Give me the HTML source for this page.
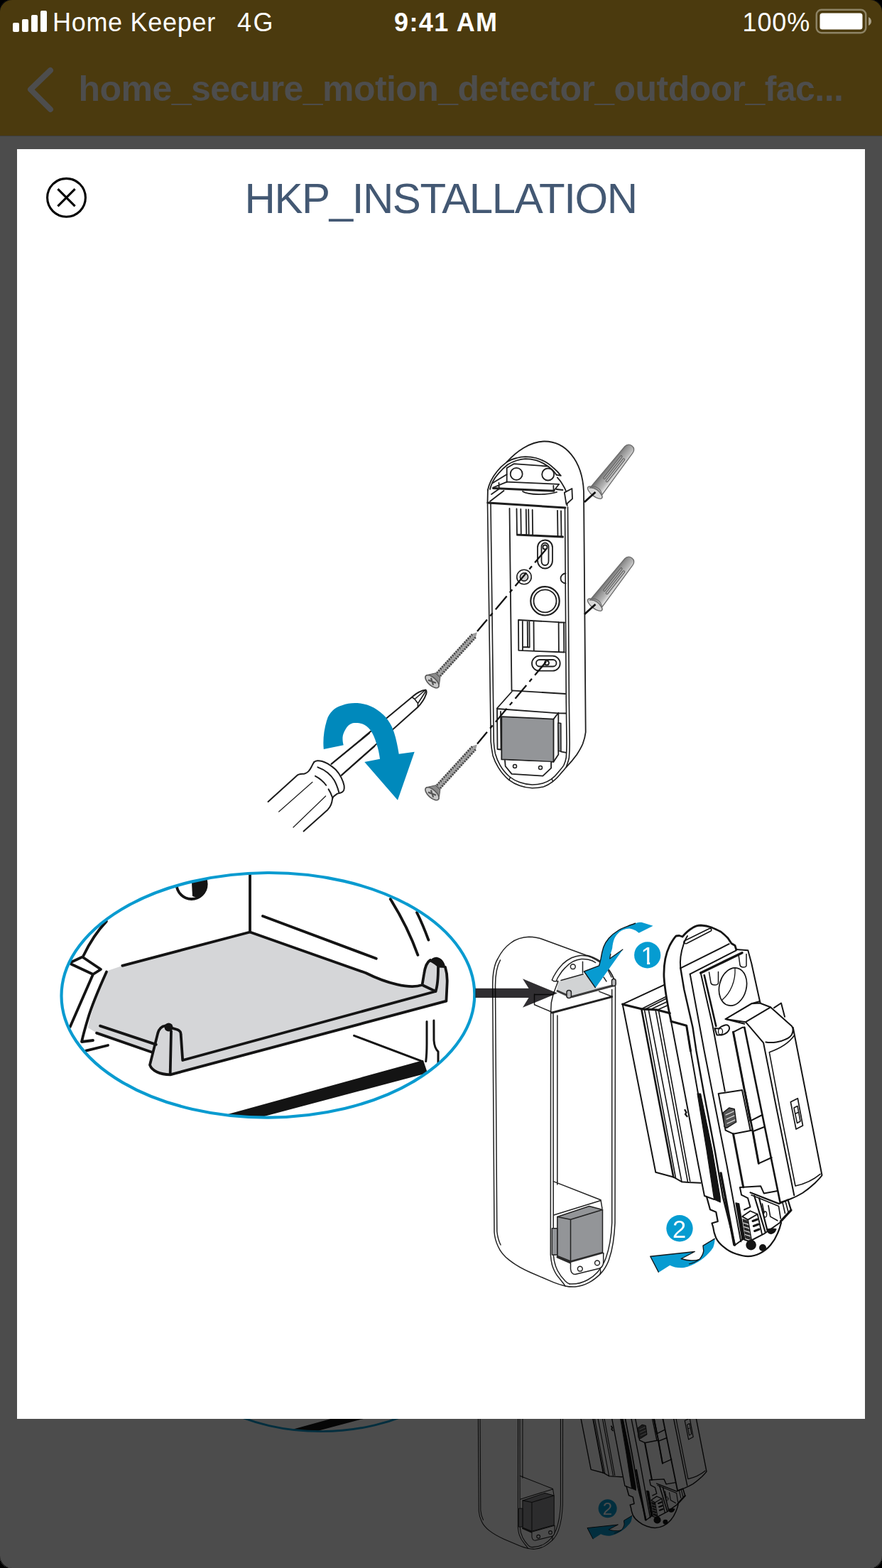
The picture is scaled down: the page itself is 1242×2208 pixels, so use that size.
<!DOCTYPE html>
<html lang="en">
<head>
<meta charset="utf-8">
<title>HKP_INSTALLATION</title>
<style>
*{box-sizing:border-box;margin:0;padding:0}
html,body{width:1242px;height:2208px;overflow:hidden;background:#000}
body{position:relative;font-family:"Liberation Sans",sans-serif}
#screen{position:absolute;left:0;top:0;width:1242px;height:2208px;border-radius:15px;overflow:hidden;background:#4d4d4d}
#header{position:absolute;left:0;top:0;width:1242px;height:192px;background:#4b3a0e;border-bottom:1px solid #3e3e3e}
.sb{position:absolute;color:#fff;font-size:36px;line-height:40px;top:12px;white-space:nowrap}
#carrier{left:74px;letter-spacing:0.7px}
#net{left:334px;letter-spacing:2.6px}
#time{left:555px;font-weight:bold;font-size:36px;letter-spacing:1.4px}
#pct{left:1045.5px;letter-spacing:0.9px}
#navtitle{position:absolute;left:110.6px;top:95px;font-size:50px;line-height:60px;font-weight:bold;color:#4d4d4d;white-space:nowrap;letter-spacing:-0.56px}
#page{position:absolute;left:0;top:192px;width:1242px;height:2016px;background:#fff;overflow:hidden}
#dim{position:absolute;left:0;top:192px;width:1242px;height:2016px;background:rgba(0,0,0,0.7)}
#card{position:absolute;left:24px;top:210px;width:1194px;height:1788px;background:#fff;overflow:hidden}
#title{position:absolute;left:344.5px;top:244px;font-size:60px;line-height:72px;color:#435873;white-space:nowrap;letter-spacing:-1.4px}
svg{position:absolute;left:0;top:0;overflow:hidden}
#modalart{filter:blur(0.45px)}
</style>
</head>
<body>
<div id="screen">
  <div id="page">
    <svg width="1242" height="2016" viewBox="0 192 1242 2016">
      <g transform="translate(190.5 922) scale(0.695)"><use href="#illus"/></g>
    </svg>
  </div>
  <div id="dim"></div>
  <div id="header"></div>
  <div id="navtitle">home_secure_motion_detector_outdoor_fac...</div>
  <div class="sb" id="carrier">Home Keeper</div>
  <div class="sb" id="net">4G</div>
  <div class="sb" id="time">9:41 AM</div>
  <div class="sb" id="pct">100%</div>
  <div id="card">
    <svg id="modalart" width="1194" height="1788" viewBox="24 210 1194 1788">
      <defs>

  <linearGradient id="plugG" x1="0" y1="0" x2="0" y2="1" gradientUnits="objectBoundingBox">
    <stop offset="0" stop-color="#6e6e6e"/>
    <stop offset="0.3" stop-color="#959595"/>
    <stop offset="0.7" stop-color="#b9b9b9"/>
    <stop offset="1" stop-color="#efefef"/>
  </linearGradient>
  <g id="plug">
        <ellipse cx="0" cy="0" rx="5" ry="12.5" fill="#d9d9d9" stroke="#6b6b6b" stroke-width="1.4"/>
    <path d="M1 -9.6 L77 -7.2 C82 -6.8 84 -3 84 0 C84 3.5 82 6.8 77 7.2 L3 9.8 C6 4 6 -4 1 -9.6 Z" fill="url(#plugG)" stroke="#6b6b6b" stroke-width="1.3"/>
    <path d="M4 9 C9 4 9 -4 4 -9" fill="none" stroke="#6b6b6b" stroke-width="1.2"/>
    <rect x="23" y="-3.6" width="41" height="2.6" rx="1.3" fill="#a9a9a9" stroke="#5a5a5a" stroke-width="1"/>
    <rect x="22" y="1.8" width="41" height="2.6" rx="1.3" fill="#c4c4c4" stroke="#5a5a5a" stroke-width="1"/>
  </g>
  <g id="screw">
    <path d="M9 -4.4 L86 -4.2 L94 0 L86 4.2 L9 4.4 Z" fill="#9c9c9c"/>
    <path d="M10 0 L88 0" stroke="#3a3a3a" stroke-width="9.4" stroke-dasharray="1.5 2.1" fill="none"/>
    <path d="M12 0 L88 0" stroke="#bdbdbd" stroke-width="3.4" stroke-dasharray="1.5 2.1" stroke-dashoffset="-1.8" fill="none"/>
    <path d="M4 -10 L12 -4.4 L12 4.4 L4 10 Z" fill="#8a8a8a" stroke="#555" stroke-width="1"/>
    <ellipse cx="0" cy="0" rx="5.6" ry="12" fill="#c9c9c9" stroke="#5a5a5a" stroke-width="1.6"/>
    <path d="M-2.2 -5.5 L2.2 5.5 M2.6 -4.6 L-2.6 4.6" stroke="#555" stroke-width="2.2" fill="none"/>
  </g>

      </defs>
      <g id="illus">
<g id="dev1" fill="none" stroke="#1e1e1e" stroke-width="1.8" stroke-linecap="round" stroke-linejoin="round">
  <!-- outer shell -->
  <path d="M686.9 690 C687.8 685.5 689.3 681.5 691.2 677.4 C693.5 672.5 696.5 668 700 663.7 C704 658.5 708.5 654.5 713.7 650.6 C727 636 746 622 766 621.5 C796 621 820 648 822 692 L824.7 1031 C824 1037 822.5 1042.5 820.6 1047.5 C818.5 1052.5 815.5 1057.5 812.3 1062.5 C808 1068.5 803 1074.5 797.3 1080.3 C794.8 1083.6 792 1086.8 789.1 1089.9 C785.8 1094 782 1097.7 778.1 1100.9 C774.3 1103.8 770 1106.2 765.8 1107.7 C760.5 1109.2 755 1109.8 749.4 1109.8 C743 1109.5 737 1108.3 731.6 1106.3 C726 1104.3 721 1101.5 716.5 1098.1 C710.5 1093 705.5 1087 701.5 1080.3 C698.3 1075 695.8 1069.5 694 1063.9 C692.8 1057.5 691.8 1051 691.2 1044.7 L690.5 990 L686.5 708 Z" fill="#fff" stroke="none"/>
  <path d="M713.7 650.6 C727 636 746 622 766 621.5 C796 621 820 648 822 692 L824.7 1031 C824 1037 822.5 1042.5 820.6 1047.5 C818.5 1052.5 815.5 1057.5 812.3 1062.5 C808 1068.5 803 1074.5 797.3 1080.3"/>
  <path d="M686.9 690 L686.5 708"/>
  <!-- rim outer arc -->
  <path d="M686.9 690 C687.8 685.5 689.3 681.5 691.2 677.4 C693.5 672.5 696.5 668 700 663.7 C704 658.5 708.5 654.5 713.7 650.6 C718 647.8 722.5 646 727.4 645 C731.5 643.8 735.5 643.2 739.9 643.1 C745 643.2 750 643.8 754.9 645 C759.5 646.3 763.5 648 767.4 650 C772 652.5 776 655.8 779.8 659.3 C783.5 662.5 786.8 666 789.8 669.9 L783.6 668.7"/>
  <path d="M690 689 C691 685 692.2 682 693.7 678.7 C696 674 699 670 702.5 666.2 C706 662 710.5 657.8 714.9 654.3 C719 651.8 723 649.8 727.4 648.5 C731.5 647.2 735.5 646.4 739.9 646.2 C745 646.3 750 647 754.9 648.1 C759 649.3 762.5 651 766.1 653.1 C770 655.3 774 658.2 777.3 661.2 C779.8 663.5 781.8 666 783.6 668.7"/>
  <path d="M784.8 672.4 C787.8 675.5 790.2 678.8 792.3 682.4 C794.5 685.7 796.2 689 797.3 692.4 C798.2 696.5 798.6 700.5 798.6 704.9 L798.6 712"/>
  <!-- rim sides -->
  <path d="M686.5 708 L690.5 990 L691.2 1044.7 C691.8 1051 692.8 1057.5 694 1063.9 C695.8 1069.5 698.3 1075 701.5 1080.3 C705.5 1087 710.5 1093 716.5 1098.1 C721 1101.5 726 1104.3 731.6 1106.3 C737 1108.3 743 1109.5 749.4 1109.8 C755 1109.8 760.5 1109.2 765.8 1107.7 C770 1106.2 774.3 1103.8 778.1 1100.9 C782 1097.7 785.8 1094 789.1 1089.9 C792 1086.8 794.8 1083.6 797.3 1080.3 C800 1072 801.2 1069.5 801.4 1066.6 C802 1059 802.2 1052 802.1 1044.7 L801.4 990 L799.5 714" stroke-width="1.6"/>
  <path d="M691 709 L694.6 990 L695.3 1044.7 C695.6 1050 696.3 1056 697.4 1061.2 C699 1067 701.3 1072.5 704.2 1077.6 C708 1084 712.5 1089.5 717.9 1094 C722 1097.3 726.5 1099.8 731.6 1101.6 C737 1103.6 743 1104.8 749.4 1105 C754.5 1105 759.5 1104.3 764.4 1102.9 C769 1101.5 773 1099.5 776.8 1096.8 C780.3 1094 783.5 1090.8 786.3 1087.2 C789 1084 791.6 1081 793.9 1077.6 C795.5 1074 796.7 1070.5 797.3 1066.6 C797.8 1059 798.1 1052 798 1044.7 L797.3 990 L795.5 715" stroke-width="1.6"/>
  <path d="M717 1098.5 L718.5 1094.5 M778.5 1100.5 L777 1096.5" stroke-width="1.4"/>
  <!-- box top edge -->
  <path d="M687 708 L796 715" stroke-width="3"/>
  <!-- recess: back plate -->
  <path d="M713.7 678.7 L713.7 659 L723.5 653.2 L770 656.5"/>
  <path d="M713.7 678.7 L787 681.8"/>
  <circle cx="727.2" cy="667.4" r="8.5"/>
  <circle cx="771.7" cy="668" r="8.5"/>
  <!-- shelf -->
  <path d="M694.5 687.4 L780 691.3" stroke-width="3"/>
  <path d="M713.7 678.7 L694.5 686.5 M702.5 680 L702.8 688 M779.3 684 L779.6 691.3 M780 691 L787 682 M783.5 689 L792.5 690"/>
  <path d="M736 692 C744 697.5 772 697 784 693"/>
  <!-- left wall diagonals -->
  <path d="M690 706 L709.5 691 M692 696 L702 689 M694 680 L713.7 668"/>
  <!-- right tab -->
  <path d="M794.8 693.6 L805.4 688 L806 702.4 L797.5 710 Z" fill="#fff"/>
  <!-- inner panel left line -->
  <path d="M717.5 716 L720.5 972"/>
  <!-- upper clip block -->
  <path d="M727.5 716.5 L728 752.5 L793 755.5 M733.3 717 L733.8 752.5 M740.8 717.5 L741.3 752.5 M744.2 717.5 L744.7 752.5 M749.7 718 L750.2 753.5 M785 719 L785.5 755 M790 719.5 L790.5 755" />
  <path d="M728 753.5 L793 756.5"/>
  <!-- keyhole -->
  <path d="M767.5 760.5 C773.5 760.5 778 765 778 771 L778 789 C778 796 773.5 800.5 767.5 800.5 C761.5 800.5 757 796 757 789 L757 771 C757 765 761.5 760.5 767.5 760.5 Z"/>
  <path d="M767.5 764.5 C770.5 764.5 772.5 767 772.5 770 L772.5 790 C772.5 793.5 770.5 796 767.5 796 C764.5 796 762.5 793.5 762.5 790 L762.5 770 C762.5 767 764.5 764.5 767.5 764.5 Z"/>
  <circle cx="767.5" cy="770.5" r="3"/>
  <!-- small screw hole -->
  <circle cx="738" cy="812.5" r="10.2" stroke-width="1.6"/>
  <circle cx="738" cy="812.5" r="5.6" stroke-width="1.6" fill="#d0d0d0"/>
  <path d="M796.5 807.5 A7 7 0 0 0 796.5 821.5"/>
  <!-- big round -->
  <circle cx="767.5" cy="846.3" r="20.2" stroke-width="2.2"/>
  <circle cx="767.5" cy="846.3" r="16"/>
  <!-- lower clip block -->
  <path d="M730 873 L795 876.6 M730 873 L730.3 915.8 L795 918.5 M735.8 873.5 L736 915.5 M742.7 874 L743 911 M745.4 874 L745.7 911 M751.5 874.5 L751.8 916.5 M786.6 876 L786.9 918 M794 876.5 L794.3 918.5 M736 911 L745.7 911.5"/>
  <!-- horizontal slot -->
  <rect x="749" y="923.7" width="39.7" height="21" rx="10.5"/>
  <rect x="755" y="929" width="28.5" height="9.5" rx="4.75"/>
  <circle cx="770" cy="933.5" r="3"/>
  <!-- battery tray -->
  <path d="M720.7 972.3 L796 977 M720.7 974 L699.8 997.5 M699.8 998 L786 1004.3 L797 1004.5 M700 998 L700.5 1055 L705.5 1055.5 M705 1002 L705.5 1055"/>
  <!-- battery -->
  <path d="M706.3 1009.2 L779.5 1012.6 L779.5 1072.8 L706.3 1069.4 Z" fill="#939598"/>
  <path d="M779.5 1012.6 L786.3 1003.7 L786.3 1062.5 L779.5 1072.8"/>
  <path d="M785.8 1018 L789.8 1018.5 L790 1057.7 L786.5 1057.5 Z" fill="#939598" stroke-width="1.5"/>
  <path d="M789.8 1058.4 L797.3 1059.8"/>
  <!-- bracket -->
  <path d="M711 1070.8 L711.7 1079 L720.6 1089.9 L764.4 1092.7 L776.1 1081.7 L776.1 1073" fill="#fff"/>
  <circle cx="725" cy="1079" r="2.5" stroke-width="1.5"/>
  <circle cx="761" cy="1081" r="2.5" stroke-width="1.5"/>
  <!-- dashed lines -->
  <path d="M768.9 773.6 L672 889" stroke-dasharray="24.5 6.5 5.5 6.5" stroke-width="2.3" stroke-linecap="butt" stroke="#111"/>
  <path d="M768.9 932 L672 1047.4" stroke-dasharray="24.5 6.5 5.5 6.5" stroke-width="2.3" stroke-linecap="butt" stroke="#111"/>
</g>

<g id="topExtra">
  <use href="#plug" transform="translate(837.8 693.7) rotate(-51.8)"/>
  <use href="#plug" transform="translate(837.8 851.7) rotate(-51.8)"/>
  <path d="M823 707 L838.5 693 M823 865 L838.5 851" stroke="#111" stroke-width="2.8" fill="none"/>
  <use href="#screw" transform="translate(608.5 959.7) rotate(-47.6)"/>
  <use href="#screw" transform="translate(608.5 1117.7) rotate(-47.6)"/>
  <!-- screwdriver -->
  <g fill="none" stroke="#1c1c1c" stroke-width="2" stroke-linecap="round" stroke-linejoin="round">
    <path d="M466.7 1075.8 L580 981.7 C586 976.5 592 972.5 599.5 971.6 C601 973 600.8 975 600 977.5 C597.5 985 593.5 990.5 588.3 995.8 L480.8 1091.7"/>
    <path d="M580 981.7 L584 984.5 L598.5 972 M584 984.5 L588.5 990.5 M588.5 990.5 L599.5 973.5 M588.5 990.5 L588.3 995.8" stroke-width="1.6"/>
    <!-- collar -->
    <path d="M442.3 1073.1 C443.5 1072 445 1071.4 446.8 1071.2 C449 1071 451.3 1071.3 453.6 1072 C456.3 1072.8 459 1074 461.5 1075.4 C465.5 1077.8 469.3 1080.5 472.7 1083.8 C476 1087.2 478.5 1091 480.6 1095.1 C482.4 1098.7 483.8 1102.5 484.6 1106.4 C485 1109 484.8 1111.2 484 1113.1 C483 1115 481.5 1116 479.5 1116.5 L475 1117.6 C473 1119 471 1120.5 469.3 1122.1 L468.2 1124.4"/>
    <path d="M447.4 1080.4 C452.5 1082.2 457.3 1084.9 461.5 1088.3 C465 1091.2 468 1094.6 470.5 1098.5 C473.5 1103.5 475.5 1109.3 477.2 1115.4"/>
    <path d="M444 1092.8 C447 1094.3 450 1096.2 452.4 1098.5 C455 1100.6 457.3 1103 459.2 1105.8 M462.6 1111.4 C465 1115 466.8 1119 468.2 1123.3"/>
    <!-- handle -->
    <path d="M377.5 1128.9 L418.6 1091.7 C420 1090.8 421.5 1090.3 423.1 1090 C425 1089.7 427 1089.8 428.8 1089.5 C431 1088.8 432.8 1087.7 434.4 1086.1 C436.2 1084.2 437.7 1081.8 438.9 1079.3 C440 1077 441 1074.8 442.3 1073.1"/>
    <path d="M427.6 1170.6 L461.5 1140.2 C463.5 1138 465 1135.8 466 1133.4 C467.2 1130.5 467.8 1127.5 468.2 1124.4"/>
    <path d="M392.7 1143 L440 1101.3 M413 1165 L458.6 1121" stroke-width="1.2"/>
  </g>
  <!-- arrow -->
  <path d="M455.8 1055 C454.5 1043 456 1025 461.7 1010 C467 1000 473 996 481.7 993.3 C488 990.5 496 989.6 503.3 990 C512 990.5 520 993 526.7 996.7 C533 1000.5 539 1005 543.3 1010 C549 1017 553 1025 555 1031.7 C558 1041 560 1051 561.7 1061.7 L583.7 1058.7 L560 1126.7 L513.3 1073 L535 1068.7 C534 1061 532.5 1053.5 530 1046.7 C528 1040 525.5 1033.5 521.7 1028.3 C518.5 1024 514.5 1020.8 510 1019.2 C506 1018 501 1017.6 496.7 1018.3 C492.5 1019.5 489 1022.5 486.7 1026.7 C484 1031 482.7 1035 482.5 1038.3 C482.3 1042 482.8 1046 483.7 1049.2 Z" fill="#0089bc"/>
  <g fill="none" stroke="#1c1c1c" stroke-width="2" stroke-linecap="round">
    <path d="M466.7 1075.8 L520 1032.5 M480.8 1091.7 L527.5 1050.8"/>
  </g>
</g>

<g id="callout">
  <clipPath id="ellClip"><ellipse cx="377.4" cy="1401.3" rx="290.9" ry="172.3"/></clipPath>
  <g clip-path="url(#ellClip)">
    <rect x="80" y="1220" width="600" height="360" fill="#fff"/>
    <!-- grey floor -->
    <path d="M150 1367.5 L172 1360 L352 1313.5 L515 1370 C545 1385 577 1393 594.5 1387 L597 1372 C598 1362 601 1355 606 1352 L612 1350 L627 1362 L629.6 1385 L628.4 1409.7 L239.7 1513.3 C225 1513 214 1508 211 1499.6 L214 1482 L136 1454.6 L123.7 1447 C128 1425 138 1398 150 1367.5 Z" fill="#d5d6d8"/>
    <g fill="none" stroke="#141414" stroke-width="3.8" stroke-linecap="round" stroke-linejoin="round">
      <path d="M352 1232 L352 1312.5 L172.3 1359.8"/>
      <path d="M352 1312.5 L515 1370 C545 1385 577 1393 594.5 1387 L597 1372 C598.5 1361 601.5 1354.5 606 1352"/>
      <path d="M370 1290 L529.8 1349.8"/>
      <path d="M549.7 1266 C566 1292 578 1316 588.4 1344.8 M587 1285 C593 1297 598 1309 603.4 1323.6"/>
      <!-- right post -->
      <path d="M627 1362 C629.5 1370 630 1378 629.6 1385 L628.4 1409.7 L239.7 1513.3 C225 1513 214 1508 211 1499.6 L222.3 1454.6 C224 1449 228 1445 232.3 1444.6 L250 1450 C253.5 1451.5 254.7 1453 254.7 1457 L257.2 1493 L613.4 1396 C616 1389 617 1378 617 1362" fill="none"/>
      <path d="M594.5 1387 L613.4 1396 M241 1452 L239.7 1512"/>
      <!-- front ledge -->
      <path d="M141 1444.6 L219.8 1470.9 M136 1454.6 L214.8 1482"/>
      <!-- left wall -->
      <path d="M149.9 1297.4 C136 1312 126 1328 117.4 1346 M100 1355 L116 1347.5 L142 1365 L131 1372 L100 1357.5 M131 1372 L98.7 1445.9 M150 1368.5 C138 1395 128 1420 123.7 1434.7 C120 1447 117 1458 115 1467 L131 1465 M121 1479.6 L152 1472"/>
      <!-- lower right -->
      <path d="M601 1438.4 L601 1470 C601 1480 600.5 1488 599.7 1494.6 M610.9 1437 L611 1465 C611.5 1473 614 1478 617 1480.8 L617 1497" stroke-width="3"/>
      <path d="M498.6 1458.4 L594.7 1494.6" stroke-width="3"/>
    </g>
    <path d="M604.6 1354 C608 1349 612 1347 616 1348 C622 1349.5 626 1354 627.5 1363 L617 1362.5 C612 1357.5 608 1355.5 604.6 1354 Z" fill="#141414"/>
    <circle cx="237.5" cy="1446.5" r="6" fill="#141414"/>
    <!-- small circle top -->
    <circle cx="269.7" cy="1245" r="21" fill="#fff" stroke="#141414" stroke-width="3.8"/>
    <path d="M270 1243 L291 1238 C291 1250 286 1260 277 1264 L271 1262 Z" fill="#141414"/>
    <!-- thick black band -->
    <path d="M310 1572 L596 1493 L602 1511 L372 1572 L360 1580 Z" fill="#141414"/>
  </g>
  <ellipse cx="377.4" cy="1401.3" rx="290.9" ry="172.3" fill="none" stroke="#0a9bd0" stroke-width="4.2" transform="rotate(-0.27 377.4 1401.3)"/>
</g>

<g id="dev2" fill="none" stroke="#222" stroke-width="1.5" stroke-linecap="round" stroke-linejoin="round">
  <!-- outer shell -->
  <path d="M693.7 1390 C693.5 1370 696 1358 701 1350 C706 1340 712 1333 719 1328 C727 1322 736 1319.5 745 1319.3 C752 1319.3 759 1320.8 765 1323 L825 1345 C840 1348 852 1357 858.6 1367.4 C863 1374 866 1381 866.5 1390 L866 1722 C865.5 1733 864.5 1742 863.4 1749.7 C862 1759 860 1767 857.2 1774.7 C854 1783 850 1789.5 844.7 1794.6 C840 1799 835 1803 829.7 1805.9 C823 1809.5 816 1811.5 809.8 1812 C805 1812.2 800 1811.8 796 1810.9 C790 1809.5 785 1808 779.8 1805.9 L747.4 1792 C736 1787 726 1781.5 717.4 1774.7 C710 1769 704.5 1762.5 701.2 1754.7 C698 1748 696.5 1741 696 1735 Z" fill="#fff"/>
  <path d="M697.5 1388 C697.5 1372 700 1360 704.5 1352 M697.5 1388 L699.8 1734 C700.5 1741 702 1747 705 1753"/>
  <!-- rim arcs -->
  <path d="M777.4 1380 C779 1376 780 1374 781.2 1372.4 C784 1367 788 1362 792.4 1357.4 C796 1354 800 1351 804.9 1348.7 C809 1347 813 1346 817.4 1345.5 C821 1345.2 824 1345.5 827.4 1346.2 C831 1347 835 1349 838.6 1351.2 C847 1356 854 1362 858.6 1367.4 C861 1371 863 1375 864.8 1378.6 L867 1385"/>
  <path d="M783.7 1381 C784.5 1378 786 1375.5 787.4 1373.6 C790 1369 793 1365.5 796.2 1362.4 C799.5 1359 803 1356 807.4 1353.7 C811 1352 815 1351 818.6 1350.5 C822 1350.3 825 1350.5 828.6 1351.2 C832 1352 836 1353.5 838.6 1355.5"/>
  <path d="M777.4 1380 L780 1381.8 L786 1381.8 L783.5 1388 C780 1396 777.5 1405 776.3 1412 L775.6 1425"/>
  <!-- grey shelf -->
  <path d="M786.2 1382.4 L821.1 1371.8 L827.4 1374.9 L838.6 1391.1 L864.8 1386.1 L864.8 1388 L804.9 1405 L798.7 1404.8 L783.7 1396.1 Z" fill="#d1d3d4" stroke="none"/>
  <path d="M790 1380.5 L821.1 1371.8 M820.5 1354.3 L820.5 1370"/>
  <path d="M785 1395.5 L797.5 1401 M805 1403.8 L864.8 1387.5" stroke-width="3" stroke="#3a3a3a"/>
  <rect x="798" y="1394.5" width="6.4" height="11" rx="3" fill="#b8b9bb"/>
  <rect x="861.5" y="1378.5" width="5.6" height="10" rx="2.8" fill="#b8b9bb"/>
  <path d="M850 1376 L854 1382 M856 1366 L861 1376" stroke-width="1.4"/>
  <circle cx="806.8" cy="1361.2" r="3.4"/>
  <!-- box top -->
  <path d="M777.4 1426 L861.7 1403.6" stroke-width="3"/>
  <path d="M843.6 1396.1 L861.1 1403" stroke-width="1.4"/>
  <path d="M752.5 1400 L752.5 1414.8 L776.2 1424.8 M752.5 1400.5 L778 1400.5"/>
  <!-- right edge -->
  <path d="M861.7 1393.6 L861.7 1722 C861 1740 858 1758 853 1772 C848 1785 839 1796 828 1802 C820 1806.5 810 1808.5 802 1808"/>
  <!-- left opening edge -->
  <path d="M775.6 1425 L775.3 1767 C775.8 1774 776.8 1780 778.6 1784.7 C781 1791 784 1796 787.3 1799.6 C790 1803 793 1806.5 796 1810.9"/>
  <path d="M779 1426 L779.3 1767 C780 1776 782 1783 785 1789 C788 1795 792 1800 796 1804 C798 1806 800 1807.5 802 1808"/>
  <path d="M784.9 1430 L784.8 1663.6"/>
  <!-- tray -->
  <path d="M779.3 1663.6 L846 1689.8 L848 1702 M779.8 1711 L846 1690.5 M784.8 1663.6 L784.8 1668"/>
  <!-- battery -->
  <path d="M784.8 1713.5 L829.7 1698.5 L848.5 1703.5 L848.5 1763.4 L803.5 1776 L784.8 1768.4 Z" fill="#939598"/>
  <path d="M784.8 1713.5 L803.5 1717.3 L848.5 1703.5 M803.5 1717.3 L803.5 1776"/>
  <path d="M777.3 1729.7 L784.8 1729.7 L784.8 1767 L777.3 1767 Z" fill="#939598" stroke-width="1.4"/>
  <path d="M785 1770 L803.5 1778 L849 1765" stroke-width="3" stroke="#2a2a2a"/>
  <!-- bracket -->
  <path d="M803.5 1778 L803.5 1787 C804 1791.5 806.5 1794.5 810 1794.6 L844.7 1786 C848 1784 849.7 1781 849.7 1777 L849.7 1765" fill="#fff"/>
  <circle cx="816.8" cy="1786.7" r="3.4"/>
  <circle cx="841" cy="1778.4" r="3.4"/>
  <path d="M844.7 1786 C846 1789 846 1792 844.7 1794.6" />
</g>

<g id="module" fill="none" stroke="#141414" stroke-width="2" stroke-linecap="round" stroke-linejoin="round">
  <!-- silhouette white fill -->
  <path d="M876.7 1414.2 L935.8 1386.7 C934.5 1362 936 1346 943 1331.5 C946 1326 949 1321 952 1318 L956.5 1317.5 L961 1319 C966 1313 971 1309 975 1306.7 C979 1304 983 1303 987 1303 C992 1303.2 997 1304 1002 1306 C1007 1308 1011 1310 1015 1312 C1019 1315 1022 1318 1025 1321 L1030 1328.5 L1035 1331.5 L1036.7 1337 L1053.3 1338.3 L1058.3 1356.7 L1070.8 1412.5 L1085 1418.3 L1090 1419.2 L1100 1412.5 L1105 1431.7 L1115 1445 L1144.2 1587 L1157.5 1655 C1146 1668 1130 1680 1113.3 1688.3 L1110 1691.7 L1115 1706.7 L1100 1718.3 C1098 1732 1092 1745 1085 1753.3 C1077 1762 1066 1768 1053.3 1769.2 C1040 1769 1028 1763 1020 1756.7 C1013 1751 1007 1742 1004.2 1728 L1002.5 1722.5 L1010.8 1720 L1008.3 1706.7 L1000 1703.3 L995 1685 L986.7 1665.8 L960 1664.2 L948.3 1657.5 L923.3 1650.8 Z" fill="#fff" stroke="none"/>
  <!-- left box -->
  <path d="M935.8 1386.7 L876.7 1414.2 L923.3 1650.8 L948.3 1657.5 L960 1664.2 L970 1665 L986.7 1665.8"/>
  <path d="M876.7 1414.2 L903.3 1420.8 L925 1422 L943.3 1426.7" stroke-width="3.2"/>
  <path d="M903.3 1420.8 L938.3 1403.3 M908 1421.5 L938.5 1406 M916 1421.5 L939.5 1410.5 M925 1422.5 L940.5 1415.5" stroke-width="1.6"/>
    <path d="M903.3 1421 L948.3 1657.5" stroke-width="2.6"/>
  <path d="M907.5 1422 L951.5 1659 M913.3 1422 L960 1664.2 M923.3 1423.3 L968.3 1663.3 M927.5 1423.3 L971.7 1663.3" stroke-width="1.6"/>
  <!-- flap -->
  <path d="M945 1438.3 L966.7 1444.2 L972.5 1480" stroke-width="3"/>
  <path d="M945 1438.3 L983.3 1640 L992 1684 L1005.6 1689 M992 1684 L995 1685"/>
  <path d="M964.5 1563 L966.5 1566.5 L965 1569 L967.5 1572" stroke-width="2.4"/>
  <!-- band -->
  <path d="M966.7 1444.2 L972.5 1480 L983 1540"/>
  <path d="M982 1540 L986.6 1540 L1003 1620 L1014 1685 L1014.4 1693 L1005.6 1689 L995.1 1620 Z" fill="#141414" stroke-width="1.2"/>
  <!-- top cap -->
  <path d="M945 1438 C940 1415 936 1392 935 1376 C934.5 1362 936 1346 943 1331.5 C946 1326 949 1321 952 1318 L956.5 1317.5 L961 1319 C966 1313 971 1309 975 1306.7 C979 1304 983 1303 987 1303 C992 1303.2 997 1304 1002 1306 C1007 1308 1011 1310 1015 1312 C1019 1315 1022 1318 1025 1321 L1030 1328.5 L1035 1331.5 L1036.7 1337" stroke-width="2.8"/>
  <path d="M958.3 1363.3 C957 1352 959 1340 963 1328.5 C964.5 1324 966 1321 968 1318"/>
  <path d="M963.5 1325 C962 1327 964 1329.5 967 1328.5 L1001 1311 C1003 1309.5 1001.5 1307 999 1307.5 Z" stroke-width="1.6"/>
  <path d="M958.3 1363.3 L1026.7 1329.2 M971.7 1371.7 L1036.7 1338.3"/>
  <path d="M986.7 1370 L1045 1341.7" stroke-width="3.4"/>
  <path d="M1036.7 1337 L1053.3 1338.3 L1058.3 1356.7 L1070 1410 L1070.8 1412.5"/>
  <!-- B lines -->
  <path d="M958.3 1363.3 L963.3 1393.3 L975.5 1446.7 L980.5 1480 L991.3 1540 L1006.6 1620 L1017.8 1685 L1035 1753.3" stroke-width="2.4"/>
  <path d="M971.7 1371.7 L991.7 1480 L1023.3 1640 L1043.3 1748.3"/>
  <path d="M986.7 1370 L1003.3 1443.3 L1020.8 1536.7"/>
  <path d="M991.7 1373.3 L1008.3 1445" stroke-width="2.6"/>
  <!-- plate details -->
  <ellipse cx="1032" cy="1389.5" rx="19" ry="27" transform="rotate(14 1032 1389.5)" stroke-width="1.7"/>
  <path d="M1035 1363.5 C1036 1381 1029 1398 1017 1408" stroke-width="1.3"/>
  <path d="M998.5 1369 L1001 1384 C1002 1388 1011 1388 1011.5 1384 L1011.5 1368.5 M1040 1344 L1042 1359 C1043 1363 1051 1363 1051 1359.5 L1051 1343.5" stroke-width="1.5"/>
  <path d="M1070 1410 L1058.3 1413.3 L1021.7 1435"/>
  <!-- knob -->
  <path d="M1006.5 1448 L1009.5 1457.5 L1016 1457.5 C1022 1456 1026 1453 1027 1449 C1027.5 1445 1025 1442.5 1021 1443.5 C1017 1444.5 1014 1446.5 1012 1448.5 Z"/>
  <ellipse cx="1014.5" cy="1452.5" rx="3" ry="4.5" stroke-width="1.3"/>
  <!-- front housing top cover -->
  <path d="M1021.7 1435 L1058.3 1413.3 L1070 1412.5 L1085 1418.3 L1050 1439.2 Z" fill="#fff"/>
  <path d="M1021.7 1435 L1048.3 1441.7 M1090 1419.2 L1100 1412.5 L1105 1431.7"/>
  <path d="M1085 1418.3 L1115 1445 C1117 1448 1117.3 1452 1115 1456.7 C1113 1460 1110 1462 1106.7 1463.3 C1102 1465.5 1098 1466.8 1093.3 1467.5 C1088 1468.2 1083 1468.3 1078.3 1467.5"/>
  <path d="M1050 1439.2 L1075 1468.3 L1093.3 1560 L1118.3 1683.3"/>
  <path d="M1118.3 1458.3 C1110 1470 1097 1477 1083.3 1481.7 L1098 1560 L1120 1670 C1134 1667 1147 1660 1155 1653.3" stroke-width="1.6"/>
  <path d="M1116.7 1446.7 L1144.2 1587 L1157.5 1655 C1154 1660 1150 1663.5 1146.7 1666.7 C1141 1672 1136 1676 1130 1680 C1125 1683 1119 1686 1113.3 1688.3 C1108 1690.5 1103 1692 1098.3 1693.3"/>
  <!-- switch -->
  <path d="M1113.3 1551.7 L1123.3 1546.7 L1130.5 1585 L1121 1590 Z" stroke-width="1.7"/>
  <path d="M1118 1560 L1123 1557.5 L1127 1579 L1122.5 1581.5 Z M1120.5 1568 L1125 1566" stroke-width="1.5"/>
  <!-- middle column -->
  <path d="M1032.5 1453.3 L1045.8 1446.7 L1048.3 1446.7 M1032.5 1453.3 L1056.7 1578.3 L1073.3 1570" />
  <path d="M1032.5 1453.3 L1056.7 1578.3" stroke-width="3"/>
  <path d="M1048.3 1446.7 L1098.3 1691.7" stroke-width="2.6"/>
  <path d="M1060 1593.3 L1076.7 1586.7 M1060 1593.3 L1068.3 1638.3 L1086.7 1630 M1057 1580 L1060 1593.3" />
  <path d="M1060 1593.3 L1068.3 1638.3" stroke-width="3"/>
  <!-- PCB box -->
  <path d="M1011.7 1540 L1045 1535 L1056.7 1591.7 M1011.7 1540 L1021.7 1591.7 L1032.5 1596.7 L1058.3 1591.7 M1049 1536 L1060 1591"/>
  <path d="M1018.3 1566.7 L1026.7 1560 L1034.2 1561.7 L1036.7 1580 L1023.3 1588.3 L1020 1586.7 Z" fill="#555" stroke-width="1.4"/>
  <path d="M1022 1570 L1033 1565 M1023 1576 L1034 1571 M1024 1582 L1035 1577" stroke="#eee" stroke-width="1.2"/>
  <!-- lower block -->
  <path d="M1032.5 1596.7 L1046.7 1671.7" stroke-width="3"/>
  <path d="M1041.9 1672 L1071.2 1670.3 L1075.7 1680.4 L1094.8 1677.1 M1041.9 1672 L1044.1 1682.7 L1053.1 1687.2 L1056.5 1699.6 L1048 1703.5"/>
  <!-- clip -->
  <path d="M1056.5 1679.3 L1097.1 1695.1 L1109.5 1689.5 L1114 1704.1 L1099.3 1719.9" stroke-width="2.2"/>
  <path d="M1058 1682.8 L1096.5 1698.5 L1099.3 1716" stroke-width="1.6"/>
  <path d="M1062.1 1683.8 L1077.9 1735.7 M1069 1687 L1080.2 1731.2" stroke-width="2.2"/>
  <path d="M1073.4 1695.1 L1076 1708 M1082 1697.5 L1084.7 1713.1 L1094.8 1718.8 M1102 1693.5 L1105.5 1708.5 M1106 1691.5 L1110 1706.5" stroke-width="1.6"/>
  <path d="M1099.3 1719.9 L1114 1704.1" stroke-width="3.2"/>
  <ellipse cx="1077.5" cy="1710" rx="2.2" ry="4" stroke-width="1.3"/>
  <!-- terminal -->
  <path d="M1036.2 1694 L1040.5 1695 L1048.6 1745 L1045.2 1745.8 Z" fill="#141414" stroke-width="1.6"/>
  <path d="M1045.2 1713.1 L1056.5 1705.2 L1066.7 1709.7 L1053.1 1717.6 Z M1053.1 1717.6 L1058 1746 M1066.7 1709.7 L1073 1738" stroke-width="1.8"/>
  <path d="M1045.5 1716 L1052.5 1718.5 L1057 1746 L1049.5 1744 Z" fill="#2a2a2a" stroke="none"/>
  <path d="M1046.8 1722 L1053.5 1724.2 M1047.6 1727.5 L1054.4 1729.7 M1048.5 1733 L1055.3 1735.2 M1049.4 1738.5 L1056.2 1740.7" stroke="#e8e8e8" stroke-width="1.3"/>
  <path d="M1060 1719.5 L1066.5 1717 M1061.3 1726.5 L1067.8 1724 M1062.6 1733.5 L1069.1 1731" stroke-width="3"/>
  <path d="M1048.6 1745.8 L1055.4 1748 L1076.8 1736.8 L1098.5 1721.5" stroke-width="2"/>
  <!-- back plate bottom -->
  <path d="M995 1685 L1000 1703.3 L1008.3 1706.7 L1010.8 1720 L1002.5 1722.5 L1004.2 1728 C1005 1735 1006.5 1739 1008.3 1743.3 C1011 1749 1015 1753 1020 1756.7 C1025 1761 1031 1764 1036.7 1765.8 C1042 1767.5 1048 1769 1053.3 1769.2 C1059 1769 1065 1767.5 1070 1765 C1076 1762 1081 1758 1085 1753.3 C1089 1748.5 1092.5 1743 1095 1736.7 C1097.5 1731 1099 1726 1100 1721.7" stroke-width="2.2"/>
  <path d="M1035 1753.3 L1045.2 1745.8"/>
  <path d="M1015 1652 L1034 1753" stroke-width="3.6"/>
  <circle cx="1057.6" cy="1753.1" r="6.3" fill="#141414"/>
  <circle cx="1074" cy="1757" r="4" fill="#141414"/>
  <path d="M1080 1731.5 C1082 1738.5 1089.5 1739 1092.5 1731 C1089 1730 1084 1730.5 1080 1731.5 Z" fill="#141414"/>
</g>

<g id="blue">
  <path d="M669.5 1391.8 L744.5 1391.8 L736 1378.2 L785 1398.6 L736 1418.8 L744.5 1405 L669.5 1405 Z" fill="#302e31" style="mix-blend-mode:multiply"/>
  <!-- arrow 1 -->
  <path d="M838.6 1391.1 L822.4 1368 L843.6 1359.9 C844.5 1356 845.5 1353 846.1 1349.9 C847 1344 848 1339 849.8 1333.7 C851.5 1329 854 1325 857.3 1321.2 C861 1317 866 1313 871 1310 C875 1307.5 879 1306 883.5 1304.4 C887 1303 891 1301.5 895 1300 C898 1299 901 1298.6 903.4 1298.7 L919.6 1303.7 L899.6 1313.7 C897 1311.5 895 1310 893 1309.5 C891 1308.5 888.5 1307.6 886 1307.5 C883 1307.6 880.5 1308.2 878.5 1309 C876 1310 874 1311 872.2 1312.5 C869 1315.5 866.5 1318.5 865 1322 C863.5 1326 862.5 1330.5 862.2 1335 C861.5 1338 860.5 1340.5 860 1343 L858.6 1349.9 L877.3 1336.8 Z" fill="#079bd1"/>
  <path d="M838.6 1391.1 L822.4 1368 L843.6 1359.9 C844.5 1356 845.5 1353 846.1 1349.9 C847 1344 848 1339 849.8 1333.7 C851.5 1329 854 1325 857.3 1321.2 C861 1317 866 1313 871 1310 C875 1307.5 879 1306 883.5 1304.4 C887 1303 891 1301.5 895 1300" fill="none" stroke="#10181c" stroke-width="1.4" stroke-linejoin="round"/>
  <path d="M860 1343 L858.6 1349.9 L877.3 1336.8" fill="none" stroke="#10181c" stroke-width="1.2" stroke-linejoin="round"/>
  <!-- arrow 2 -->
  <path d="M915.8 1769.2 L978.3 1762.5 L959.2 1772.5 C964 1774 969 1775 973.3 1775 C978 1775.3 982 1774.5 985 1773.3 C988 1770 990 1766 990.8 1761.7 L990 1754.2 L1006.7 1744.2 C1006.5 1749 1005.5 1753 1004.2 1756.7 C1002.5 1759.5 1000.5 1762 998.3 1764.2 C994 1769 989 1773 983.3 1776.7 C977 1780.5 970 1783.5 963.3 1785 C956 1786 949 1784.5 943.3 1781.7 L927.5 1791.7 Z" fill="#079bd1"/>
  <path d="M927.5 1791.7 L915.8 1769.2 L978.3 1762.5 L959.2 1772.5 C964 1774 969 1775 973.3 1775 C978 1775.3 982 1774.5 985 1773.3 C988 1770 990 1766 990.8 1761.7 L990 1754.2 L1006.7 1744.2" fill="none" stroke="#10181c" stroke-width="1.4" stroke-linejoin="round"/>
  <path d="M985 1773.3 C980 1777 975 1779 970 1780" fill="none" stroke="#10181c" stroke-width="1.2"/>
  <!-- circles -->
  <circle cx="911.7" cy="1344.9" r="18.6" fill="#059cd1"/>
  <circle cx="957" cy="1729.8" r="18.7" fill="#059cd1"/>
  <text x="912.2" y="1358.2" font-family="Liberation Sans, sans-serif" font-size="34.5" fill="#fff" text-anchor="middle">1</text>
  <path d="M903 1354.3 H911.1 V1359.5 H903 Z M915.2 1354.3 H922.5 V1359.5 H915.2 Z" fill="#059cd1"/>
  <text x="956.6" y="1742.9" font-family="Liberation Sans, sans-serif" font-size="34.5" fill="#fff" text-anchor="middle">2</text>
</g>


      </g>
    </svg>
  </div>
  <div id="title">HKP_INSTALLATION</div>
  <svg id="chrome" width="1242" height="2208" viewBox="0 0 1242 2208">
    <g fill="#fff">
      <rect x="18" y="32" width="9" height="13" rx="2"/>
      <rect x="31" y="27" width="9" height="18" rx="2"/>
      <rect x="44" y="21" width="9" height="24" rx="2"/>
      <rect x="57" y="15" width="9" height="30" rx="2"/>
    </g>
    <rect x="1149.75" y="13.75" width="69.5" height="32.5" rx="7" fill="none" stroke="#8d8365" stroke-width="2.5"/>
    <rect x="1154.5" y="18.5" width="60" height="23" rx="3.5" fill="#fff"/>
    <path d="M1223 24 Q1227 26 1227 30 Q1227 34 1223 36 Z" fill="#a89f86"/>
    <path d="M0 0 H17 A17 17 0 0 0 0 17 Z M1242 0 V17 A17 17 0 0 0 1225 0 Z M0 2208 V2191 A17 17 0 0 0 17 2208 Z M1242 2208 H1225 A17 17 0 0 0 1242 2191 Z" fill="#000"/>
    <circle cx="93.5" cy="278.3" r="26.9" fill="none" stroke="#000" stroke-width="3.1"/>
    <path d="M81.4 266.2 L105.6 290.4 M105.6 266.2 L81.4 290.4" fill="none" stroke="#000" stroke-width="3.1"/>
    <path d="M71 99 L43 126 L71 154" fill="none" stroke="#4d4d4d" stroke-width="8" stroke-linecap="round" stroke-linejoin="round"/>
  </svg>
</div>
</body>
</html>
